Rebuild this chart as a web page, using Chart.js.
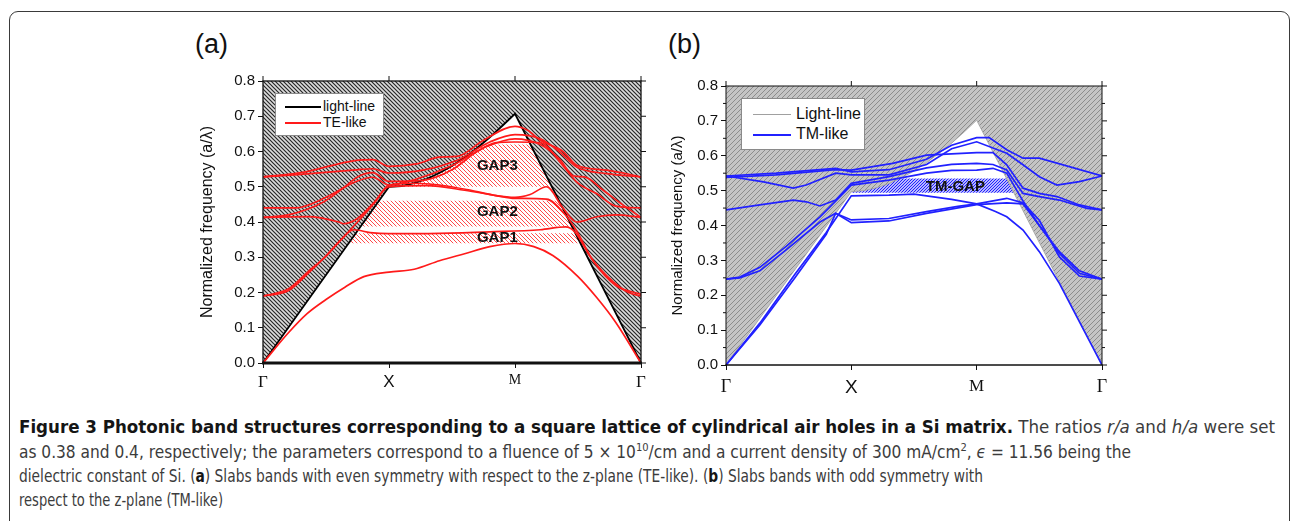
<!DOCTYPE html>
<html>
<head>
<meta charset="utf-8">
<script src="https://cdn.jsdelivr.net/npm/chart.js@4.4.1/dist/chart.umd.min.js"></script>
<style>
  body { margin: 0; width: 1290px; height: 521px; overflow: hidden; position: relative; background: #fff;
         font-family: "Liberation Sans", Arial, sans-serif; color: #111; }
  .frame { position: absolute; left: 9px; top: 11px; width: 1279px; height: 600px;
           border: 1.5px solid #3a3a3a; border-radius: 9px; }
  .tag { position: absolute; top: 29px; font-size: 27px; line-height: 30px; }
  .wrap { position: absolute; }
  .legend { position: absolute; background: #fff; border: 1px solid #8a8a8a; box-sizing: border-box; }
  .legend .row { position: absolute; white-space: nowrap; }
  .legend .sw { position: absolute; }
  .cap { position: absolute; left: 19px; white-space: nowrap; font-size: 17px; line-height: 20px; color: #3c3c3c;
         font-family: "Liberation Sans Narrow", "DejaVu Sans Condensed", "Open Sans", sans-serif; transform-origin: 0 0; }
  .cap b { color: #151515; }
  .cap sup { font-size: 11px; line-height: 0; vertical-align: 7px; }
</style>
</head>
<body>
<div class="frame"></div>
<div class="tag" style="left:195px">(a)</div>
<div class="tag" style="left:668px">(b)</div>

<div class="wrap" style="left:150px;top:60px"><canvas id="chartTE" width="500" height="340"></canvas></div>
<div class="wrap" style="left:650px;top:60px"><canvas id="chartTM" width="470" height="340"></canvas></div>

<div class="legend" id="legTE" style="left:275px;top:93px;width:109px;height:43px"></div>
<div class="legend" id="legTM" style="left:741px;top:98px;width:124px;height:52px"></div>

<div class="cap" style="top:417px"><b>Figure 3 Photonic band structures corresponding to a square lattice of cylindrical air holes in a Si matrix.</b> The ratios <i>r/a</i> and <i>h/a</i> were set</div>
<div class="cap" style="top:442px">as 0.38 and 0.4, respectively; the parameters correspond to a fluence of 5 × 10<sup>10</sup>/cm and a current density of 300 mA/cm<sup>2</sup>, <i>ϵ</i> = 11.56 being the</div>
<div class="cap" style="top:466px">dielectric constant of Si. (<b>a</b>) Slabs bands with even symmetry with respect to the z-plane (TE-like). (<b>b</b>) Slabs bands with odd symmetry with</div>
<div class="cap" style="top:490px">respect to the z-plane (TM-like)</div>

<script>
// wave vector path and labels
const kLabels = ['Γ', 'X', 'M', 'Γ'];

// light lines (a/λ) along Γ-X-M-Γ
const lightTE = [[0,0],[1,0.5],[1.1,0.502],[1.2,0.51],[1.3,0.522],[1.4,0.539],[1.5,0.559],[1.6,0.583],[1.7,0.61],[1.8,0.64],[1.9,0.673],[2,0.707],[3,0]];
const lightTM = [[0,0],[1,0.497],[1.1,0.5],[1.2,0.508],[1.3,0.52],[1.4,0.537],[1.5,0.556],[1.6,0.58],[1.7,0.607],[1.8,0.636],[1.9,0.668],[2,0.702],[3,0]];

// TE-like bands
const te1 = [[0,0],[0.2,0.085],[0.35,0.14],[0.5,0.18],[0.65,0.215],[0.8,0.245],[1,0.258],[1.2,0.266],[1.4,0.29],[1.6,0.31],[1.8,0.33],[2,0.339],[2.15,0.33],[2.3,0.305],[2.5,0.245],[2.65,0.185],[2.8,0.115],[3,0]];
const te2 = [[0,0.19],[0.2,0.21],[0.36,0.26],[0.49,0.3],[0.62,0.35],[0.72,0.378],[0.85,0.37],[1,0.367],[1.4,0.368],[1.8,0.372],[2.2,0.378],[2.4,0.386],[2.48,0.37],[2.6,0.3],[2.78,0.23],[2.9,0.2],[3,0.19]];
const te3 = [[0,0.19],[0.2,0.205],[0.36,0.255],[0.49,0.3],[0.62,0.35],[0.75,0.4],[0.886,0.455],[1,0.505],[1.2,0.51],[1.4,0.505],[1.65,0.49],[1.85,0.475],[2,0.47],[2.12,0.478],[2.25,0.5],[2.38,0.44],[2.49,0.4],[2.65,0.415],[2.8,0.42],[3,0.413]];
const te4 = [[0,0.413],[0.36,0.415],[0.6,0.4],[0.64,0.395],[0.75,0.41],[0.88,0.455],[1,0.5],[1.3,0.503],[1.6,0.49],[1.85,0.475],[2,0.467],[2.25,0.465],[2.4,0.42],[2.48,0.38],[2.62,0.29],[2.8,0.22],[3,0.195]];
const te5 = [[0,0.413],[0.2,0.42],[0.48,0.457],[0.65,0.5],[0.75,0.528],[0.87,0.54],[1,0.515],[1.27,0.518],[1.5,0.548],[1.7,0.6],[1.85,0.625],[2,0.627],[2.2,0.625],[2.38,0.56],[2.5,0.51],[2.65,0.48],[2.8,0.445],[3,0.44]];
const te6 = [[0,0.44],[0.26,0.44],[0.5,0.47],[0.74,0.515],[0.87,0.527],[1,0.505],[1.2,0.52],[1.5,0.56],[1.75,0.61],[2,0.636],[2.2,0.62],[2.35,0.58],[2.47,0.53],[2.55,0.528],[2.7,0.49],[2.85,0.45],[3,0.413]];
const te7 = [[0,0.528],[0.3,0.535],[0.74,0.548],[0.87,0.551],[1,0.539],[1.27,0.547],[1.54,0.575],[1.8,0.627],[2,0.648],[2.2,0.636],[2.35,0.6],[2.49,0.556],[2.73,0.537],[3,0.528]];
const te8 = [[0,0.528],[0.3,0.54],[0.74,0.575],[0.87,0.577],[1,0.558],[1.22,0.565],[1.4,0.584],[1.54,0.586],[1.75,0.632],[2,0.671],[2.1,0.66],[2.2,0.632],[2.38,0.6],[2.49,0.561],[2.73,0.547],[3,0.528]];

// TM-like bands
const tm1 = [[0,0],[0.27,0.12],[0.55,0.26],[0.8,0.38],[1,0.485],[1.3,0.487],[1.5,0.49],[1.8,0.475],[2,0.462],[2.15,0.44],[2.24,0.425],[2.37,0.387],[2.5,0.325],[2.66,0.234],[3,0]];
const tm2 = [[0,0],[0.27,0.115],[0.55,0.25],[0.8,0.375],[0.875,0.435],[1,0.416],[1.3,0.42],[1.6,0.44],[1.85,0.455],[2,0.462],[2.24,0.478],[2.37,0.465],[2.5,0.415],[2.66,0.31],[2.82,0.255],[3,0.246]];
const tm3 = [[0,0.246],[0.11,0.25],[0.27,0.27],[0.48,0.33],[0.75,0.41],[0.875,0.435],[1,0.408],[1.3,0.413],[1.6,0.435],[2,0.46],[2.24,0.465],[2.37,0.462],[2.5,0.4],[2.66,0.32],[2.82,0.263],[3,0.246]];
const tm4 = [[0,0.246],[0.11,0.252],[0.27,0.28],[0.48,0.34],[0.75,0.425],[0.875,0.47],[1,0.516],[1.3,0.53],[1.6,0.55],[1.8,0.558],[2,0.559],[2.13,0.564],[2.24,0.55],[2.37,0.47],[2.5,0.4],[2.66,0.325],[2.82,0.27],[3,0.246]];
const tm5 = [[0,0.445],[0.27,0.459],[0.537,0.473],[0.64,0.468],[0.75,0.456],[0.875,0.473],[1,0.521],[1.3,0.54],[1.6,0.565],[1.8,0.575],[2,0.578],[2.13,0.575],[2.24,0.559],[2.37,0.492],[2.5,0.483],[2.66,0.473],[2.88,0.449],[3,0.445]];
const tm6 = [[0,0.542],[0.3,0.525],[0.537,0.507],[0.64,0.516],[0.875,0.55],[1,0.545],[1.3,0.545],[1.6,0.575],[1.8,0.62],[2,0.64],[2.24,0.607],[2.37,0.574],[2.5,0.54],[2.64,0.516],[2.82,0.526],[3,0.542]];
const tm7 = [[0,0.542],[0.4,0.55],[0.875,0.564],[1,0.554],[1.3,0.56],[1.6,0.59],[1.8,0.63],[2,0.652],[2.1,0.652],[2.24,0.617],[2.37,0.593],[2.5,0.593],[3,0.542]];
const tm8 = [[0,0.538],[0.4,0.545],[0.875,0.56],[1,0.559],[1.33,0.578],[1.6,0.602],[2,0.609],[2.13,0.609],[2.24,0.574],[2.37,0.507],[2.5,0.492],[2.64,0.483],[2.82,0.459],[3,0.445]];

// photonic gaps: [label, kFrom, kTo, low, high]
const gapsTE = [['GAP1', 0.6, 2.6, 0.34, 0.368], ['GAP2', 0.6, 2.6, 0.387, 0.46], ['GAP3', 1.0, 2.6, 0.5, 0.62]];
const gapsTM = [['TM-GAP', 1.0, 2.6, 0.494, 0.535]];

function hatch(bg, fg, size, lw, dir) {
  const c = document.createElement('canvas');
  c.width = size; c.height = size;
  const g = c.getContext('2d');
  g.fillStyle = bg; g.fillRect(0, 0, size, size);
  g.strokeStyle = fg; g.lineWidth = lw;
  g.beginPath();
  if (dir === '/') {
    g.moveTo(-1, 1); g.lineTo(1, -1);
    g.moveTo(0, size); g.lineTo(size, 0);
    g.moveTo(size - 1, size + 1); g.lineTo(size + 1, size - 1);
  } else {
    g.moveTo(-1, size - 1); g.lineTo(1, size + 1);
    g.moveTo(0, 0); g.lineTo(size, size);
    g.moveTo(size - 1, -1); g.lineTo(size + 1, 1);
  }
  g.stroke();
  return g.createPattern(c, 'repeat');
}

// frame, right/top ticks and minor ticks
const frameTicks = {
  id: 'frameTicks',
  afterDraw(chart, args, o) {
    const { ctx, chartArea: a, scales: { x, y } } = chart;
    ctx.save();
    ctx.strokeStyle = o.color;
    ctx.lineWidth = o.width;
    ctx.strokeRect(a.left, a.top, a.right - a.left, a.bottom - a.top);
    ctx.lineWidth = o.bottomWidth;
    ctx.beginPath(); ctx.moveTo(a.left - 1, a.bottom); ctx.lineTo(a.right + 1, a.bottom); ctx.stroke();
    ctx.lineWidth = 1;
    ctx.beginPath();
    y.ticks.forEach((t, i) => {
      const p = y.getPixelForValue(t.value);
      ctx.moveTo(a.right, p); ctx.lineTo(a.right + 5, p);
      if (o.minor && i < y.ticks.length - 1) {
        const m = y.getPixelForValue((t.value + y.ticks[i + 1].value) / 2);
        ctx.moveTo(a.right, m); ctx.lineTo(a.right + 3, m);
        ctx.moveTo(a.left, m); ctx.lineTo(a.left - 3, m);
      }
    });
    x.ticks.forEach(t => {
      const p = x.getPixelForValue(t.value);
      ctx.moveTo(p, a.top); ctx.lineTo(p, a.top - 5);
    });
    ctx.stroke();
    ctx.restore();
  }
};

const gapLabels = {
  id: 'gapLabels',
  afterDatasetsDraw(chart, args, o) {
    const { ctx, scales: { x, y } } = chart;
    ctx.save();
    ctx.font = o.font;
    ctx.fillStyle = '#111';
    ctx.textAlign = 'center';
    ctx.textBaseline = 'middle';
    o.items.forEach(it => ctx.fillText(it.text, x.getPixelForValue(it.x), y.getPixelForValue(it.y)));
    ctx.restore();
  }
};

function buildChart(id, cfg) {
  const bands = cfg.bands.map((b, i) => ({
    label: i === 0 ? cfg.bandLabel : '',
    data: b,
    borderColor: cfg.bandColor,
    borderWidth: 1.7,
    pointRadius: 0,
    fill: false,
    tension: cfg.smooth ? 0.4 : 0,
    cubicInterpolationMode: cfg.smooth ? 'monotone' : 'default',
    order: 0
  }));
  const light = {
    label: cfg.lightLabel,
    data: cfg.light,
    borderColor: cfg.lightColor,
    borderWidth: cfg.lightWidth,
    pointRadius: 0,
    fill: 'end',
    backgroundColor: cfg.cone,
    order: 1
  };
  const gaps = cfg.gaps.map(g => ({
    label: '',
    data: [[g[1], g[3]], [g[2], g[3]]],
    borderWidth: 0,
    pointRadius: 0,
    fill: { value: g[4] },
    backgroundColor: cfg.gapFill,
    order: 2
  }));

  return new Chart(document.getElementById(id), {
    type: 'line',
    data: { datasets: [...bands, light, ...gaps] },
    plugins: [frameTicks, gapLabels],
    options: {
      responsive: false,
      animation: false,
      layout: { padding: cfg.padding },
      plugins: {
        legend: { display: false },
        tooltip: { enabled: false },
        frameTicks: { color: '#111', width: cfg.frameWidth, bottomWidth: cfg.bottomWidth, minor: cfg.minor },
        gapLabels: {
          font: cfg.gapFont,
          items: cfg.gaps.map((g, i) => ({ text: g[0], x: cfg.gapText[i][0], y: cfg.gapText[i][1] }))
        }
      },
      scales: {
        x: {
          type: 'linear', min: 0, max: 3,
          border: { display: false },
          grid: { drawOnChartArea: false, tickLength: 5, color: '#111' },
          ticks: {
            stepSize: 1, autoSkip: false, maxRotation: 0, padding: cfg.xPad, color: '#111',
            callback: v => kLabels[v],
            font: c => {
              const v = c.tick ? c.tick.value : 0;
              if (v === 1) return { family: 'Liberation Sans', size: cfg.xSize };
              return { family: 'Liberation Serif', size: v === 2 ? cfg.mSize : cfg.gSize };
            }
          },
          afterFit: s => { s.height = cfg.xHeight; }
        },
        y: {
          min: 0, max: 0.8,
          border: { display: false },
          grid: { drawOnChartArea: false, tickLength: 5, color: '#111' },
          ticks: { stepSize: 0.1, padding: 3, color: '#111', font: { family: 'Liberation Sans', size: 15 },
                   callback: v => v.toFixed(1) },
          title: { display: true, text: 'Normalized frequency (a/λ)', color: '#111', padding: { top: 0, bottom: 0 },
                   font: { family: 'Liberation Sans', size: cfg.titleSize } },
          afterFit: s => { s.width = cfg.yWidth; }
        }
      }
    }
  });
}

function legend(el, chart, fontSize, rows, swW) {
  const sets = chart.data.datasets;
  const items = [sets.find(d => d.fill === 'end'), sets[0]];
  items.forEach((d, i) => {
    const sw = document.createElement('div');
    sw.className = 'sw';
    sw.style.cssText = `left:${swW[0]}px;width:${swW[1]}px;top:${rows[i]}px;border-top:${d.borderWidth < 1 ? 1 : 2}px solid ${d.borderColor}`;
    el.appendChild(sw);
    const t = document.createElement('div');
    t.className = 'row';
    t.textContent = d.label;
    t.style.cssText = `left:${swW[2]}px;top:${rows[i] - fontSize * 0.6}px;font-size:${fontSize}px;line-height:${fontSize * 1.2}px`;
    el.appendChild(t);
  });
}

const chartTE = buildChart('chartTE', {
  bands: [te1, te2, te3, te4, te5, te6, te7, te8], bandColor: '#ff1a1a', bandLabel: 'TE-like', smooth: true,
  light: lightTE, lightLabel: 'light-line', lightColor: '#000', lightWidth: 1.8,
  cone: hatch('#dcdcdc', '#262626', 4, 1.15, '\\'),
  gaps: gapsTE, gapFill: hatch('#ffffff', '#ff4a4a', 4, 1, '\\'),
  gapText: [[1.86, 0.355], [1.86, 0.428], [1.86, 0.559]], gapFont: 'bold 15px "Liberation Sans"',
  padding: { left: 48, top: 21, right: 9, bottom: 0 }, yWidth: 65, xHeight: 37, xPad: 4,
  xSize: 17, gSize: 17, mSize: 14, titleSize: 16, frameWidth: 1.3, bottomWidth: 3, minor: false
});

const chartTM = buildChart('chartTM', {
  bands: [tm1, tm2, tm3, tm4, tm5, tm6, tm7, tm8], bandColor: '#2121ff', bandLabel: 'TM-like', smooth: false,
  light: lightTM, lightLabel: 'Light-line', lightColor: '#a0a0a0', lightWidth: 0.8,
  cone: hatch('#c4c4c4', '#8c8c8c', 5, 1, '/'),
  gaps: gapsTM, gapFill: hatch('#ffffff', '#1a1aff', 3, 1.2, '/'),
  gapText: [[1.83, 0.51]], gapFont: 'bold 15px "Liberation Sans"',
  padding: { left: 19, top: 26, right: 18, bottom: 0 }, yWidth: 57, xHeight: 35, xPad: 6,
  xSize: 19, gSize: 18, mSize: 17, titleSize: 15, frameWidth: 1, bottomWidth: 1.2, minor: true
});

legend(document.getElementById('legTE'), chartTE, 14, [12, 28], [9, 36, 47]);
legend(document.getElementById('legTM'), chartTM, 16, [15, 35], [11, 38, 54]);

// fit caption lines to the printed widths
const capEnds = [1275, 1131, 983, 223];
document.querySelectorAll('.cap').forEach((el, i) => {
  const w = el.getBoundingClientRect().width;
  el.style.transform = `scaleX(${(capEnds[i] - 19) / w})`;
});
</script>
</body>
</html>
